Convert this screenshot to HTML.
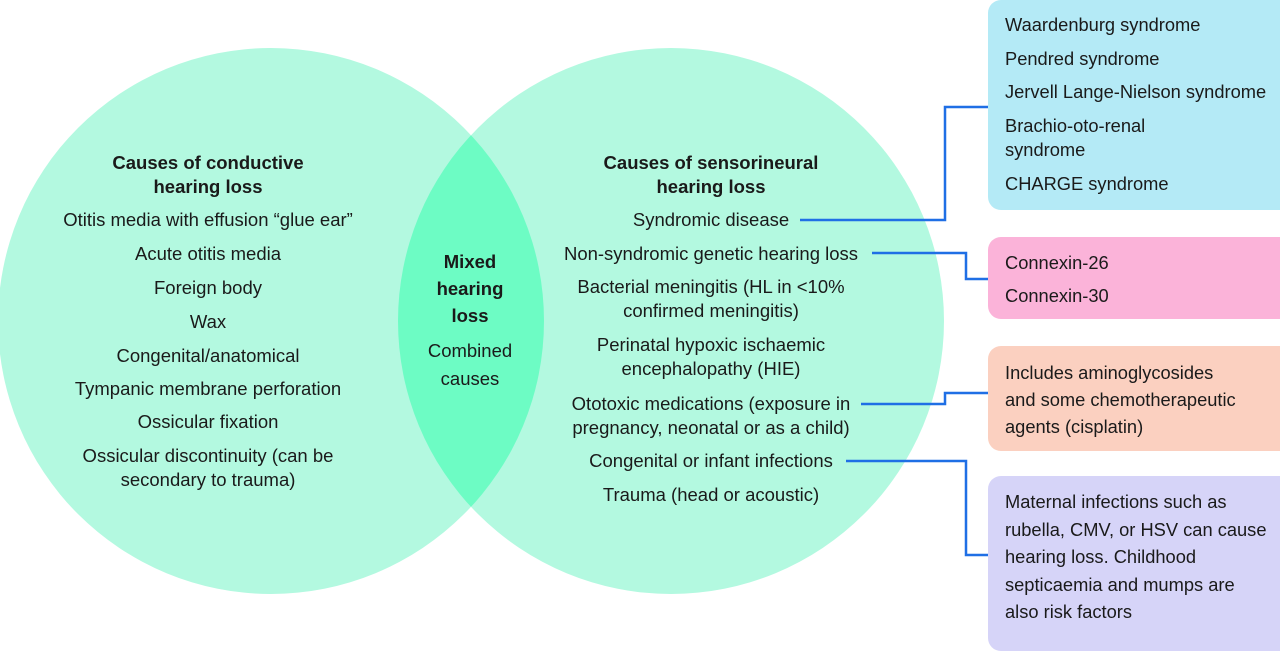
<!DOCTYPE html>
<html><head><meta charset="utf-8"><style>
html,body{margin:0;padding:0}
body{width:1280px;height:635px;position:relative;overflow:hidden;background:#fff;font-family:"Liberation Sans",sans-serif;color:#1a1a1a}
.t{position:absolute;font-size:18.5px;line-height:24px;white-space:nowrap}
.c{transform:translateX(-50%);text-align:center}
b{font-weight:bold}
.box{position:absolute;left:988px;width:310px;border-radius:13px}
.bx{font-size:18.3px}
</style></head><body>
<svg width="1280" height="635" style="position:absolute;left:0;top:0">
<defs><clipPath id="cl"><circle cx="271" cy="321" r="273"/></clipPath></defs>
<circle cx="271" cy="321" r="273" fill="#b3f9e0"/>
<circle cx="671" cy="321" r="273" fill="#b3f9e0"/>
<circle cx="671" cy="321" r="273" fill="#6dfcc4" clip-path="url(#cl)"/>
<g fill="none" stroke="#1f6fe5" stroke-width="2.5">
<polyline points="800,220 945,220 945,107 988,107"/>
<polyline points="872,253 966,253 966,279 988,279"/>
<polyline points="861,404 945,404 945,393 988,393"/>
<polyline points="846,461 966,461 966,555 988,555"/>
</g>
</svg>
<div class="box" style="top:0;height:210px;background:#b4eaf6"></div>
<div class="box" style="top:237px;height:82px;background:#fbb3d9"></div>
<div class="box" style="top:346px;height:105px;background:#fbd0c0"></div>
<div class="box" style="top:476px;height:175px;background:#d6d4f8"></div>

<div class="t c" style="left:208px;top:151px"><b>Causes of conductive<br>hearing loss</b></div>
<div class="t c" style="left:208px;top:208px">Otitis media with effusion “glue ear”</div>
<div class="t c" style="left:208px;top:242px">Acute otitis media</div>
<div class="t c" style="left:208px;top:276px">Foreign body</div>
<div class="t c" style="left:208px;top:310px">Wax</div>
<div class="t c" style="left:208px;top:344px">Congenital/anatomical</div>
<div class="t c" style="left:208px;top:377px">Tympanic membrane perforation</div>
<div class="t c" style="left:208px;top:410px">Ossicular fixation</div>
<div class="t c" style="left:208px;top:444px">Ossicular discontinuity (can be<br>secondary to trauma)</div>

<div class="t c" style="left:470px;top:248px;line-height:27px"><b>Mixed<br>hearing<br>loss</b></div>
<div class="t c" style="left:470px;top:337px;line-height:28px">Combined<br>causes</div>

<div class="t c" style="left:711px;top:151px"><b>Causes of sensorineural<br>hearing loss</b></div>
<div class="t c" style="left:711px;top:208px">Syndromic disease</div>
<div class="t c" style="left:711px;top:242px">Non-syndromic genetic hearing loss</div>
<div class="t c" style="left:711px;top:275px">Bacterial meningitis (HL in &lt;10%<br>confirmed meningitis)</div>
<div class="t c" style="left:711px;top:333px">Perinatal hypoxic ischaemic<br>encephalopathy (HIE)</div>
<div class="t c" style="left:711px;top:392px">Ototoxic medications (exposure in<br>pregnancy, neonatal or as a child)</div>
<div class="t c" style="left:711px;top:449px">Congenital or infant infections</div>
<div class="t c" style="left:711px;top:483px">Trauma (head or acoustic)</div>

<div class="t bx" style="left:1005px;top:13px">Waardenburg syndrome</div>
<div class="t bx" style="left:1005px;top:47px">Pendred syndrome</div>
<div class="t bx" style="left:1005px;top:80px">Jervell Lange-Nielson syndrome</div>
<div class="t bx" style="left:1005px;top:114px">Brachio-oto-renal<br>syndrome</div>
<div class="t bx" style="left:1005px;top:172px">CHARGE syndrome</div>
<div class="t bx" style="left:1005px;top:251px">Connexin-26</div>
<div class="t bx" style="left:1005px;top:284px">Connexin-30</div>
<div class="t bx" style="left:1005px;top:359px;line-height:27px">Includes aminoglycosides<br>and some chemotherapeutic<br>agents (cisplatin)</div>
<div class="t bx" style="left:1005px;top:488px;line-height:27.5px">Maternal infections such as<br>rubella, CMV, or HSV can cause<br>hearing loss. Childhood<br>septicaemia and mumps are<br>also risk factors</div>
</body></html>
